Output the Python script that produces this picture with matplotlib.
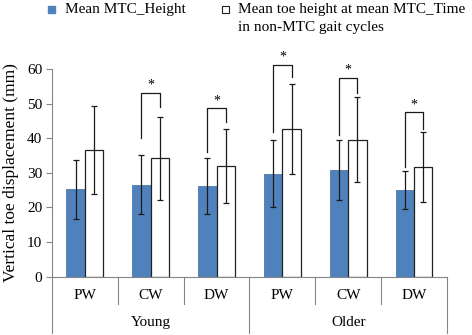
import numpy as np
import matplotlib.pyplot as plt
from matplotlib.patches import Rectangle
from matplotlib.transforms import blended_transform_factory

plt.rcParams['font.family'] = ['Liberation Serif', 'DejaVu Serif']

# data
conditions = ["PW", "CW", "DW", "PW", "CW", "DW"]
groups = ["Young", "Older"]
mtc_height = [25.2, 26.6, 26.2, 29.8, 30.9, 25.0]
mtc_height_sd = [8.6, 8.5, 8.2, 9.7, 8.6, 5.4]
toe_height = [36.6, 34.2, 32.0, 42.7, 39.6, 31.7]
toe_height_sd = [12.8, 12.0, 10.7, 13.1, 12.2, 10.1]
# significance brackets: (category, top, left leg bottom, right leg bottom)
brackets = [(1, 53.2, 40.0, 49.0), (2, 48.6, 36.0, 44.6),
            (3, 61.3, 41.7, 57.7), (4, 57.4, 40.9, 53.1), (5, 47.5, 31.6, 42.8)]

blue = "#4F81BD"
grey = "#868686"
W = 0.28

fig = plt.figure(figsize=(4.72, 3.35), dpi=100)
ax = fig.add_axes([0.110, 0.174, 0.837, 0.620])

x = np.arange(len(conditions))
ax.bar(x - W / 2, mtc_height, W, color=blue, edgecolor="#3d6aa0", linewidth=0.5, zorder=2)
ax.bar(x + W / 2, toe_height, W, color="white", edgecolor="#222222", linewidth=0.9, zorder=2)
ax.errorbar(x - W / 2, mtc_height, yerr=mtc_height_sd, fmt="none", ecolor="#1a1a1a",
            elinewidth=0.9, capsize=2, capthick=0.9, zorder=3)
ax.errorbar(x + W / 2, toe_height, yerr=toe_height_sd, fmt="none", ecolor="#1a1a1a",
            elinewidth=0.9, capsize=2, capthick=0.9, zorder=3)

for c, top, lb, rb in brackets:
    ax.plot([c - W / 2, c - W / 2, c + W / 2, c + W / 2], [lb, top, top, rb],
            color="#1a1a1a", lw=0.9, clip_on=False, zorder=4)
    ax.text(c, top + 2.2, "*", ha="center", va="center", fontsize=10,
            clip_on=False)

ax.set_xlim(-0.5, 5.5)
ax.set_ylim(0, 60)
ax.set_yticks(range(0, 61, 10))
ax.tick_params(axis="y", labelsize=11, length=4, color=grey, direction="out", pad=3)
ax.set_xticks([])
for s in ["top", "right"]:
    ax.spines[s].set_visible(False)
ax.spines["left"].set_color(grey)
ax.spines["bottom"].set_color(grey)
ax.set_ylabel("Vertical toe displacement (mm)", fontsize=12.5, labelpad=6)

# two-level category axis
tr = blended_transform_factory(ax.transData, ax.transAxes)
for b in np.arange(-0.5, 6.0, 1.0):
    low = -0.271 if b in (-0.5, 2.5, 5.5) else -0.1315
    ax.plot([b, b], [0, low], color=grey, lw=0.8, transform=tr, clip_on=False)
for i, lab in enumerate(conditions):
    ax.text(i, -0.089, lab, transform=tr, ha="center", va="center", fontsize=11)
for g, lab in enumerate(groups):
    ax.text(1 + 3 * g, -0.2225, lab, transform=tr, ha="center", va="center", fontsize=11)

# legend
fig.patches.append(Rectangle((48 / 472, 1 - 13 / 335), 7 / 472, 7 / 335,
                             transform=fig.transFigure, color=blue))
fig.text(65 / 472, 1 - 9.5 / 335, "Mean MTC_Height", fontsize=11, va="center")
fig.patches.append(Rectangle((222 / 472, 1 - 13 / 335), 7 / 472, 7 / 335,
                             transform=fig.transFigure, facecolor="white",
                             edgecolor="#222222", lw=0.8))
fig.text(238 / 472, 1 - 9.5 / 335, "Mean toe height at mean MTC_Time", fontsize=11, va="center")
fig.text(238 / 472, 1 - 27 / 335, "in non-MTC gait cycles", fontsize=11, va="center")

fig.savefig("out.png", dpi=100, facecolor="white")
